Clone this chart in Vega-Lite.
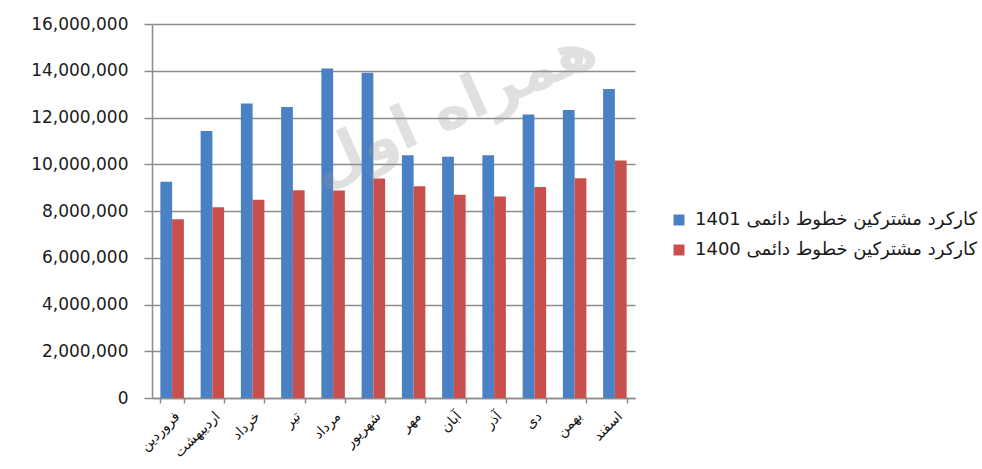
{
  "$schema": "https://vega.github.io/schema/vega-lite/v6.json",
  "autosize": {"type": "none"},
  "width": 483,
  "height": 374,
  "padding": {"left": 152, "top": 24, "right": 347, "bottom": 71},
  "background": "white",
  "datasets": {
    "usage": [
      {"month": "فروردین", "series": "1401 کارکرد مشترکین خطوط دائمی", "value": 9250000},
      {"month": "فروردین", "series": "1400 کارکرد مشترکین خطوط دائمی", "value": 7650000},
      {"month": "اردیبهشت", "series": "1401 کارکرد مشترکین خطوط دائمی", "value": 11420000},
      {"month": "اردیبهشت", "series": "1400 کارکرد مشترکین خطوط دائمی", "value": 8160000},
      {"month": "خرداد", "series": "1401 کارکرد مشترکین خطوط دائمی", "value": 12600000},
      {"month": "خرداد", "series": "1400 کارکرد مشترکین خطوط دائمی", "value": 8480000},
      {"month": "تیر", "series": "1401 کارکرد مشترکین خطوط دائمی", "value": 12450000},
      {"month": "تیر", "series": "1400 کارکرد مشترکین خطوط دائمی", "value": 8890000},
      {"month": "مرداد", "series": "1401 کارکرد مشترکین خطوط دائمی", "value": 14100000},
      {"month": "مرداد", "series": "1400 کارکرد مشترکین خطوط دائمی", "value": 8880000},
      {"month": "شهریور", "series": "1401 کارکرد مشترکین خطوط دائمی", "value": 13910000},
      {"month": "شهریور", "series": "1400 کارکرد مشترکین خطوط دائمی", "value": 9390000},
      {"month": "مهر", "series": "1401 کارکرد مشترکین خطوط دائمی", "value": 10380000},
      {"month": "مهر", "series": "1400 کارکرد مشترکین خطوط دائمی", "value": 9060000},
      {"month": "آبان", "series": "1401 کارکرد مشترکین خطوط دائمی", "value": 10320000},
      {"month": "آبان", "series": "1400 کارکرد مشترکین خطوط دائمی", "value": 8690000},
      {"month": "آذر", "series": "1401 کارکرد مشترکین خطوط دائمی", "value": 10380000},
      {"month": "آذر", "series": "1400 کارکرد مشترکین خطوط دائمی", "value": 8620000},
      {"month": "دی", "series": "1401 کارکرد مشترکین خطوط دائمی", "value": 12130000},
      {"month": "دی", "series": "1400 کارکرد مشترکین خطوط دائمی", "value": 9030000},
      {"month": "بهمن", "series": "1401 کارکرد مشترکین خطوط دائمی", "value": 12320000},
      {"month": "بهمن", "series": "1400 کارکرد مشترکین خطوط دائمی", "value": 9400000},
      {"month": "اسفند", "series": "1401 کارکرد مشترکین خطوط دائمی", "value": 13220000},
      {"month": "اسفند", "series": "1400 کارکرد مشترکین خطوط دائمی", "value": 10160000}
    ],
    "brand": [
      {"month": "آبان", "value": 12400000, "label": "همراه اول"}
    ]
  },
  "layer": [
    {
      "data": {"name": "usage"},
      "mark": {"type": "bar"},
      "encoding": {
        "x": {
          "field": "month",
          "type": "nominal",
          "sort": null,
          "scale": {"paddingInner": 0.416, "paddingOuter": 0.208},
          "axis": {
            "title": null,
            "labelAngle": -45,
            "labelFont": "DejaVu Sans",
            "labelFontSize": 14,
            "labelColor": "#111111",
            "labelPadding": 6,
            "tickBand": "extent",
            "tickSize": 5,
            "tickColor": "#8c8c8c",
            "domainColor": "#8c8c8c",
            "domainWidth": 1.5,
            "tickWidth": 1.5
          }
        },
        "xOffset": {
          "field": "series",
          "type": "nominal",
          "sort": ["1401 کارکرد مشترکین خطوط دائمی", "1400 کارکرد مشترکین خطوط دائمی"]
        },
        "y": {
          "field": "value",
          "type": "quantitative",
          "scale": {"domain": [0, 16000000], "nice": false},
          "axis": {
            "title": null,
            "values": [0, 2000000, 4000000, 6000000, 8000000, 10000000, 12000000, 14000000, 16000000],
            "format": ",d",
            "labelFont": "DejaVu Sans",
            "labelFontSize": 17,
            "labelColor": "#1a1a1a",
            "labelPadding": 16,
            "tickSize": 8,
            "tickColor": "#8c8c8c",
            "tickWidth": 1.5,
            "domainColor": "#8c8c8c",
            "domainWidth": 1.5,
            "grid": true,
            "gridColor": "#8c8c8c",
            "gridWidth": 1.5
          }
        },
        "color": {
          "field": "series",
          "type": "nominal",
          "sort": ["1401 کارکرد مشترکین خطوط دائمی", "1400 کارکرد مشترکین خطوط دائمی"],
          "scale": {
            "domain": ["1401 کارکرد مشترکین خطوط دائمی", "1400 کارکرد مشترکین خطوط دائمی"],
            "range": ["#4a80c4", "#c94f4c"]
          },
          "legend": {
            "title": null,
            "orient": "none",
            "legendX": 518,
            "legendY": 187,
            "symbolType": "square",
            "symbolSize": 120,
            "symbolStrokeWidth": 0,
            "labelFont": "DejaVu Sans",
            "labelFontSize": 18,
            "labelColor": "#1a1a1a",
            "labelLimit": 400,
            "labelOffset": 7,
            "rowPadding": 12
          }
        }
      }
    },
    {
      "data": {"name": "brand"},
      "mark": {
        "type": "text",
        "font": "DejaVu Sans",
        "fontWeight": "bold",
        "fontSize": 60,
        "angle": -24,
        "color": "#9a9a9a",
        "opacity": 0.3,
        "align": "center",
        "baseline": "middle"
      },
      "encoding": {
        "x": {"field": "month", "type": "nominal", "sort": null},
        "y": {"field": "value", "type": "quantitative"},
        "text": {"field": "label"}
      }
    }
  ],
  "config": {
    "view": {"stroke": null}
  }
}
